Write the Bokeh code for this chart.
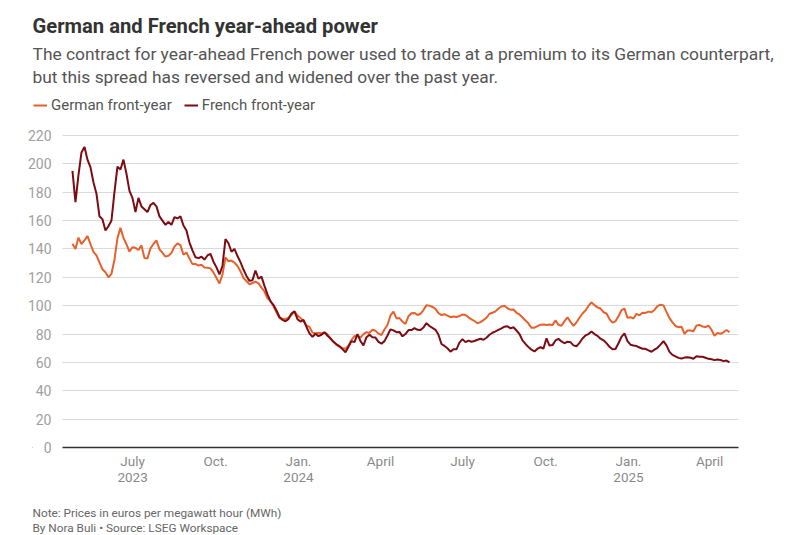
import pandas as pd
from bokeh.plotting import figure
from bokeh.models import (Range1d, FixedTicker, Span, Legend, LegendItem,
                          ColumnDataSource, BoxAnnotation, Label)
from bokeh.embed import file_html
from bokeh.resources import INLINE

# ---------------- data ----------------
title_text = "German and French year-ahead power"
subtitle_lines = [
    "The contract for year-ahead French power used to trade at a premium to its German counterpart,",
    "but this spread has reversed and widened over the past year.",
]
note_text = "Note: Prices in euros per megawatt hour (MWh)"
byline_text = "By Nora Buli \u2022 Source: LSEG Workspace"

series_names = ["German front-year", "French front-year"]

first_date = "2023-04-25 07:00"
last_date = "2025-04-23 00:00"

german = [
    143.6, 140, 148, 143.5, 146, 149, 143.5, 138, 135.5, 130.5,
    125.7, 123.6, 120, 122.5, 132.4, 147.5, 155, 147.8, 143.3, 138.2,
    141.2, 140.8, 139.3, 142.5, 133.6, 133.3, 140.4, 143.5, 146, 139.7,
    137.3, 134.6, 135.2, 137.2, 141.6, 143.9, 142.7, 135.9, 137.5, 133.2,
    129.3, 129.5, 128.3, 128.8, 127, 126.8, 126.3, 123.5, 119.5, 115.6,
    122, 134, 131.3, 131.8, 130.4, 128, 124.3, 119.5, 117.4, 115,
    116, 117, 115.7, 112.7, 110, 105.2, 103.4, 99.5, 95.4, 91.2,
    90.8, 90.5, 91.6, 93.5, 96, 93, 91.3, 89.3, 86, 85,
    81, 80.6, 80.8, 80.5, 81, 79.9, 76.7, 74.5, 72.4, 71,
    70, 69.6, 72, 75.8, 78.5, 79, 77.5, 80, 81.3, 80.8,
    83.1, 82.3, 80.3, 79.3, 83.2, 86.4, 93.1, 95.8, 91, 91.3,
    88.7, 87.2, 92.6, 94.6, 94.9, 93.4, 94.3, 96.9, 100.4, 100,
    99.1, 97.8, 94.8, 93.4, 94, 93, 91.9, 92.4, 92, 92.7,
    93.8, 93.4, 91.8, 90.4, 89.2, 87.6, 88.4, 89.8, 91.5, 94.3,
    95, 96, 98, 99.4, 100, 98.2, 97.2, 97.3, 95, 93.8,
    91.7, 89.6, 87.4, 84.4, 84.5, 85.6, 86.6, 86.7, 86.4, 86.8,
    86.3, 89.6, 86.5, 85.9, 89.1, 91.8, 88.6, 85.8, 88.3, 91.5,
    94.5, 96.6, 99.8, 102.3, 100.4, 98.8, 98, 95.4, 94.5, 90.6,
    88, 89, 92.6, 96.8, 97.9, 91.5, 91.9, 90.9, 94.3, 93.2,
    95, 94.9, 95.8, 95.4, 97, 99.7, 100.7, 100.2, 95.6, 91.2,
    88.2, 85.7, 84.8, 85.2, 80.2, 82.5, 82.5, 82, 86.1, 86.4,
    85.3, 84.9, 86, 83, 78.8, 80.8, 80.2, 81.2, 82.9, 81.3,
]

french = [
    195, 173, 192, 208, 212, 203, 197.7, 187, 179, 163,
    161, 153, 156, 160, 180, 198, 196, 203, 193, 181,
    176, 166, 176, 170, 168, 166, 171, 172.5, 170, 163,
    160, 157, 159, 157, 162.5, 161.5, 163, 156.5, 153, 144.5,
    139, 134.2, 133.5, 134.5, 132.5, 135.4, 136.6, 131, 127, 122,
    128, 147, 144, 138, 140, 135, 130.7, 125.5, 121, 117.5,
    118, 124.8, 119, 120.5, 114, 108, 103, 100.5, 96.6, 92,
    90, 89, 90.5, 94.5, 96, 90.5, 88.8, 90, 85, 80.5,
    78, 80.2, 78.5, 79.5, 81.3, 78.8, 77, 74.5, 72.8, 71.5,
    69.4, 67.2, 71, 75, 74.3, 80, 75, 72, 77.8, 79.5,
    77.8, 77.5, 74.5, 73.2, 75, 79, 83.3, 82.6, 81.3, 81.5,
    78.4, 80, 82.8, 82.8, 84.2, 83, 82.8, 84.6, 87.7, 85.7,
    84.3, 83, 79.5, 73, 71.6, 70, 67.6, 69.3, 69.2, 74,
    76.4, 74.3, 75.4, 74.6, 75.1, 76, 76.7, 76, 77.4, 79.5,
    80.9, 81.9, 83, 84, 85.2, 85.5, 84, 84.8, 82.5, 80,
    75.5, 73, 70.8, 69, 67.7, 69.7, 70.7, 69.8, 77, 71.9,
    72.2, 75.5, 76.6, 74.8, 73.5, 74.6, 74.3, 72, 71.4, 73.8,
    76.9, 79, 80, 81.8, 80, 78.7, 76.7, 75.6, 73.6, 71,
    69.2, 69.5, 73.5, 78, 80.5, 75, 72.5, 71.9, 71.5, 70.5,
    69.6, 69.6, 68.5, 67.5, 69, 70.3, 72.5, 75, 72, 67.4,
    65.3, 64.3, 63.2, 62.7, 63.4, 63.7, 63.3, 62.6, 64.4, 64,
    64, 63.3, 62.5, 62.2, 61.6, 62, 61.7, 60.9, 61.3, 60.1,
]

tick_dates = ["2023-07-01", "2023-10-01", "2024-01-01", "2024-04-01",
              "2024-07-01", "2024-10-01", "2025-01-01", "2025-04-01"]
tick_labels = ["July\n2023", "Oct.", "Jan.\n2024", "April",
               "July", "Oct.", "Jan.\n2025", "April"]
y_ticks = [0, 20, 40, 60, 80, 100, 120, 140, 160, 180, 200, 220]
y_top_tick = 220

# date window spanned by the gridded chart area
x_start = "2023-04-14 06:00"
x_end = "2025-05-03 00:00"

# ---------------- layout / styling ----------------
FONT = "Roboto"
C_GER = "#E8612C"
C_FRA = "#7D0B12"
W, H = 794, 535
GRID_L, GRID_R, GRID_T, GRID_B = 62, 738, 135, 447   # gridded chart area (page px)
FRAME_L, FRAME_R, FRAME_T, FRAME_B = 32, 794, 0, 534  # frame holds every text too
TEXT_X = 32

xs, xe = pd.Timestamp(x_start), pd.Timestamp(x_end)
ms_per_px = (xe - xs) / (GRID_R - GRID_L)
val_per_px = y_top_tick / (GRID_B - GRID_T)

def px_x(X):
    return (xs + (X - GRID_L) * ms_per_px).value / 1e6

def px_y(Y):
    return (GRID_B - Y) * val_per_px

dates = pd.date_range(first_date, last_date, periods=len(german))
src = ColumnDataSource(dict(date=dates, german=german, french=french[:len(german)]))

p = figure(width=W, height=H, x_axis_type="datetime",
           output_backend="svg", toolbar_location=None,
           min_border_left=FRAME_L, min_border_right=W - FRAME_R,
           min_border_top=FRAME_T, min_border_bottom=H - FRAME_B)
p.x_range = Range1d(px_x(FRAME_L), px_x(FRAME_R))
p.y_range = Range1d(px_y(FRAME_B), px_y(FRAME_T))
p.outline_line_color = None
p.background_fill_color = "white"
p.border_fill_color = "white"

# grid + zero line, then white masks outside the gridded area
p.ygrid.ticker = FixedTicker(ticks=y_ticks)
p.ygrid.grid_line_color = "#dadada"
p.ygrid.grid_line_width = 1
p.xgrid.grid_line_color = None
p.add_layout(Span(location=0, dimension="width", line_color="#333333",
                  line_width=1.5, level="underlay"))
p.add_layout(BoxAnnotation(right=px_x(GRID_L), fill_color="white", fill_alpha=1,
                           line_color=None, level="underlay"))
p.add_layout(BoxAnnotation(left=px_x(GRID_R), fill_color="white", fill_alpha=1,
                           line_color=None, level="underlay"))

r_ger = p.line("date", "german", source=src, line_color=C_GER, line_width=2)
r_fra = p.line("date", "french", source=src, line_color=C_FRA, line_width=2)

def to_ms(s):
    return int(pd.Timestamp(s).value // 10**6)

tick_ms = [to_ms(d) for d in tick_dates]
p.xaxis.ticker = FixedTicker(ticks=tick_ms)
p.xaxis.major_label_overrides = {t: l for t, l in zip(tick_ms, tick_labels)}
p.xaxis.axis_line_color = None
p.xaxis.major_tick_line_color = None
p.xaxis.minor_tick_line_color = None
p.xaxis.major_label_standoff = -88
p.xaxis.major_label_text_font = FONT
p.xaxis.major_label_text_font_size = "13.5px"
p.xaxis.major_label_text_color = "#8a8a8a"
p.xaxis.major_label_text_line_height = 1.05

p.yaxis.ticker = FixedTicker(ticks=y_ticks)
p.yaxis.axis_line_color = None
p.yaxis.major_tick_line_color = None
p.yaxis.minor_tick_line_color = None
p.yaxis.major_label_standoff = -(GRID_L - 5 - FRAME_L)
p.yaxis.major_label_text_font = FONT
p.yaxis.major_label_text_font_size = "14px"
p.yaxis.major_label_text_color = "#a0a0a0"

legend = Legend(items=[LegendItem(label=series_names[0], renderers=[r_ger]),
                       LegendItem(label=series_names[1], renderers=[r_fra])],
                location=(33 - FRAME_L, FRAME_B - 114), orientation="horizontal",
                padding=0, margin=0, spacing=12, label_standoff=4,
                glyph_width=14, glyph_height=16, label_height=16,
                label_text_font=FONT, label_text_font_size="15px",
                label_text_color="#555555",
                border_line_color=None, background_fill_alpha=0)
p.add_layout(legend, "center")

def add_text(text, Y, size, color, style="normal"):
    p.add_layout(Label(text=text, x=px_x(TEXT_X), y=px_y(Y),
                       text_font=FONT, text_font_size=size, text_color=color,
                       text_font_style=style, text_baseline="alphabetic",
                       text_align="left"))

add_text(title_text, 25, "20.2px", "#333333", "bold")
add_text(subtitle_lines[0], 53, "17.4px", "#555555")
add_text(subtitle_lines[1], 76, "17.4px", "#555555")
add_text(note_text, 512, "11.8px", "#666666")
add_text(byline_text, 527, "11.8px", "#666666")

open("out.html", "w").write(file_html(p, INLINE))
